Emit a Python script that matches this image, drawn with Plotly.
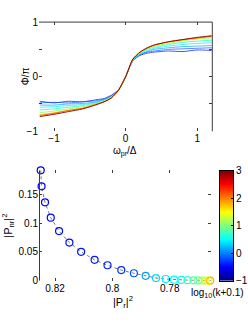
import plotly.graph_objects as go

# ---------------- data ----------------
omega = [-1.2, -1.0, -0.8, -0.6, -0.4, -0.3, -0.2, -0.1, 0.0, 0.1, 0.2, 0.3, 0.4, 0.6, 0.8, 1.0, 1.2]

phase_c1 = [-0.45, -0.48, -0.45, -0.46, -0.42, -0.40, -0.34, -0.24, 0.0, 0.29, 0.39, 0.43, 0.45, 0.47, 0.46, 0.49, 0.48]
phase_c2 = [-0.48, -0.47, -0.48, -0.46, -0.44, -0.41, -0.35, -0.24, 0.0, 0.30, 0.40, 0.45, 0.47, 0.50, 0.51, 0.52, 0.53]
phase_c3 = [-0.52, -0.52, -0.50, -0.49, -0.46, -0.42, -0.36, -0.24, 0.0, 0.30, 0.41, 0.46, 0.50, 0.53, 0.55, 0.56, 0.57]
phase_c4 = [-0.56, -0.55, -0.53, -0.51, -0.47, -0.43, -0.37, -0.25, 0.0, 0.31, 0.42, 0.48, 0.52, 0.56, 0.59, 0.61, 0.62]
phase_c5 = [-0.61, -0.59, -0.56, -0.53, -0.48, -0.44, -0.37, -0.25, 0.0, 0.31, 0.43, 0.50, 0.54, 0.59, 0.63, 0.65, 0.67]
phase_c6 = [-0.66, -0.63, -0.59, -0.55, -0.49, -0.45, -0.38, -0.25, 0.0, 0.32, 0.44, 0.51, 0.56, 0.61, 0.66, 0.69, 0.71]
phase_c7 = [-0.69, -0.66, -0.61, -0.57, -0.50, -0.45, -0.38, -0.25, 0.0, 0.32, 0.44, 0.52, 0.57, 0.63, 0.67, 0.70, 0.73]
phase_c8 = [-0.71, -0.67, -0.62, -0.58, -0.50, -0.46, -0.39, -0.25, 0.0, 0.32, 0.45, 0.52, 0.58, 0.64, 0.68, 0.71, 0.74]
phase_c9 = [-0.73, -0.69, -0.64, -0.59, -0.51, -0.46, -0.39, -0.25, 0.0, 0.32, 0.45, 0.53, 0.58, 0.64, 0.68, 0.72, 0.75]
phase_curves = [phase_c1, phase_c2, phase_c3, phase_c4, phase_c5, phase_c6, phase_c7, phase_c8, phase_c9]
phase_logk = [-0.6, -0.2, 0.1, 0.4, 0.7, 1.1, 1.6, 2.2, 3.0]

P_r = [0.8250, 0.8247, 0.8235, 0.8215, 0.8186, 0.8150, 0.8109, 0.8062, 0.8017, 0.7969,
       0.7925, 0.7884, 0.7848, 0.7814, 0.7785, 0.7759, 0.7738, 0.7717, 0.7701, 0.7687,
       0.7675, 0.7665, 0.7659, 0.7655, 0.7653, 0.7652, 0.7651]
P_nr = [0.1917, 0.1639, 0.1360, 0.1094, 0.0861, 0.0661, 0.0500, 0.0361, 0.0267, 0.0183,
        0.0128, 0.0083, 0.0045, 0.0028, 0.0017, 0.0012, 0.0008, 0.0005, 0.0003, 0.0002,
        0.0001, 0.0001, 0.0, 0.0, 0.0, 0.0, 0.0]
logk = [-0.55, -0.52, -0.5, -0.48, -0.46, -0.44, -0.42, -0.4, -0.37, -0.33,
        -0.2, 0.1, 0.35, 0.45, 0.5, 0.55, 0.65, 0.8, 0.95, 1.1,
        1.3, 1.5, 1.8, 2.1, 2.4, 2.7, 3.0]

x1_ticks = [-1, 0, 1]
x1_ticktext = ["\u22121", "0", "1"]
y1_ticks = [-1, -0.5, 0, 0.5, 1]
y1_ticktext = ["\u22121", "", "0", "", "1"]
x2_ticks = [0.82, 0.80, 0.78]
x2_ticktext = ["0.82", "0.8", "0.78"]
y2_ticks = [0, 0.05, 0.1, 0.15]
y2_ticktext = ["0", "0.05", "0.1", "0.15"]
cbar_ticks = [-1, 0, 1, 2, 3]
cbar_ticktext = ["\u22121", "0", "1", "2", "3"]
cbar_min, cbar_max = -1.0, 3.0

# ---------------- styling ----------------
W, H = 248, 330
FONT = "Liberation Sans"
jet = [[0.0, "rgb(0,0,128)"], [0.125, "rgb(0,0,255)"], [0.375, "rgb(0,255,255)"],
       [0.625, "rgb(255,255,0)"], [0.875, "rgb(255,0,0)"], [1.0, "rgb(128,0,0)"]]


def jet_color(v, vmin=cbar_min, vmax=cbar_max):
    t = min(max((v - vmin) / (vmax - vmin), 0.0), 1.0)
    for i in range(len(jet) - 1):
        t0, c0 = jet[i]
        t1, c1 = jet[i + 1]
        if t <= t1:
            a = (t - t0) / (t1 - t0) if t1 > t0 else 0
            p0 = [int(s) for s in c0[4:-1].split(",")]
            p1 = [int(s) for s in c1[4:-1].split(",")]
            r, g, b = [round(p0[k] + a * (p1[k] - p0[k])) for k in range(3)]
            return f"rgb({r},{g},{b})"
    return jet[-1][1]


def px(x):
    return x / W


def py(y):
    return 1 - y / H


fig = go.Figure()

for ys, lk in zip(phase_curves, phase_logk):
    fig.add_trace(go.Scatter(x=omega, y=ys, mode="lines", xaxis="x", yaxis="y",
                             line=dict(color=jet_color(lk), width=0.9, shape="spline", smoothing=0.6),
                             opacity=0.75 if lk < 0.5 else 1.0,
                             showlegend=False, hoverinfo="skip"))

fig.add_trace(go.Scatter(x=P_r, y=P_nr, mode="lines", xaxis="x2", yaxis="y2",
                         line=dict(color="rgb(120,120,120)", width=1, dash="dot"),
                         showlegend=False, hoverinfo="skip", cliponaxis=False))
fig.add_trace(go.Scatter(x=P_r, y=P_nr, mode="markers", xaxis="x2", yaxis="y2",
                         marker=dict(symbol="circle-open", size=7, color=logk,
                                     colorscale=jet, cmin=cbar_min, cmax=cbar_max,
                                     line=dict(width=1.2), showscale=False),
                         showlegend=False, hoverinfo="skip", cliponaxis=False))

# colour bar drawn as a one-column heatmap on its own axes
n_steps = 256
grad = [cbar_min + (cbar_max - cbar_min) * (i + 0.5) / n_steps for i in range(n_steps)]
fig.add_trace(go.Heatmap(z=[[g] for g in grad], y=grad, x=[0], xaxis="x3", yaxis="y3",
                         colorscale=jet, zmin=cbar_min, zmax=cbar_max, showscale=False,
                         hoverinfo="skip"))

axis_common = dict(showgrid=False, zeroline=False, showline=False, ticks="inside",
                   ticklen=3, tickcolor="rgb(60,60,60)", tickwidth=1, mirror="ticks",
                   tickfont=dict(family=FONT, size=10, color="black"))

fig.update_layout(
    width=W, height=H, margin=dict(l=0, r=0, t=0, b=0),
    paper_bgcolor="white", plot_bgcolor="white",
    xaxis=dict(domain=[px(39), px(212.3)], range=[-1.21, 1.21], anchor="y",
               tickvals=x1_ticks, ticktext=x1_ticktext, **axis_common),
    yaxis=dict(domain=[py(130), py(16.7)], range=[-1, 1], anchor="x",
               tickvals=y1_ticks, ticktext=y1_ticktext, **axis_common),
    xaxis2=dict(domain=[px(39), px(211)], range=[0.8256, 0.7656], anchor="y2",
                tickvals=x2_ticks, ticktext=x2_ticktext, **axis_common),
    yaxis2=dict(domain=[py(285), py(170.5)], range=[0, 0.1917], anchor="x2",
                tickvals=y2_ticks, ticktext=y2_ticktext, **axis_common),
    xaxis3=dict(domain=[px(219.5), px(233)], range=[-0.5, 0.5], anchor="y3",
                showgrid=False, zeroline=False, showticklabels=False, ticks="",
                showline=True, mirror=True, linecolor="black", linewidth=1),
    yaxis3=dict(domain=[py(285), py(171)], range=[cbar_min, cbar_max], anchor="x3", side="right",
                showgrid=False, zeroline=False, showline=True, mirror=True, linecolor="black",
                linewidth=1, ticks="inside", ticklen=2, tickcolor="black",
                tickvals=cbar_ticks, ticktext=cbar_ticktext,
                tickfont=dict(family=FONT, size=10, color="black")),
    shapes=[
        dict(type="line", xref="paper", yref="paper", x0=px(39), x1=px(212.3), y0=py(16.7), y1=py(16.7),
             line=dict(color="rgb(60,60,60)", width=1)),
        dict(type="line", xref="paper", yref="paper", x0=px(212.3), x1=px(212.3), y0=py(16.7), y1=py(130),
             line=dict(color="rgb(60,60,60)", width=1)),
        dict(type="line", xref="paper", yref="paper", x0=px(39.5), x1=px(39.5), y0=py(170.5), y1=py(285),
             line=dict(color="rgb(60,60,60)", width=1)),
    ],
    annotations=[
        dict(text="\u03a6/\u03c0", x=px(25), y=py(73), xref="paper", yref="paper", showarrow=False,
             xanchor="center", yanchor="middle",
             textangle=-90, font=dict(family=FONT, size=10, color="black")),
        dict(text="\u03c9<sub>pr</sub>/\u0394", x=px(125), y=py(151), xref="paper", yref="paper",
             xanchor="center", yanchor="middle",
             showarrow=False, font=dict(family=FONT, size=10, color="black")),
        dict(text="|P<sub>nr</sub>|<sup>2</sup>", x=px(8), y=py(228), xref="paper", yref="paper",
             xanchor="center", yanchor="middle",
             showarrow=False, textangle=-90, font=dict(family=FONT, size=11, color="black")),
        dict(text="|P<sub>r</sub>|<sup>2</sup>", x=px(123), y=py(307), xref="paper", yref="paper",
             xanchor="center", yanchor="middle",
             showarrow=False, font=dict(family=FONT, size=11, color="black")),
        dict(text="log<sub>10</sub>(k+0.1)", x=px(217), y=py(298), xref="paper", yref="paper",
             xanchor="center", yanchor="middle",
             showarrow=False, font=dict(family=FONT, size=10, color="black")),
    ],
)

fig.write_html("out.html", config={"displayModeBar": False, "displaylogo": False},
               post_script="document.body.style.margin='0';document.body.style.overflow='hidden';")
